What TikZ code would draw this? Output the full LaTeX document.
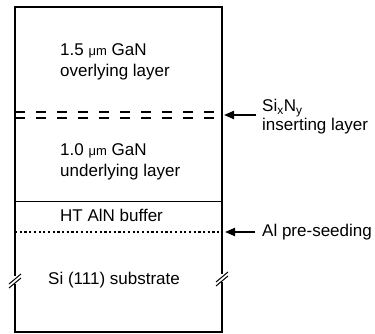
\documentclass[tikz,border=0pt]{standalone}
\usepackage{fontspec}
\setmainfont{Liberation Sans}
\usetikzlibrary{arrows.meta,positioning,calc}

\begin{document}
\begin{tikzpicture}[
    x=1pt, y=-1pt,
    layer/.style={anchor=west, align=left, font=\fontsize{17}{21}\selectfont, inner sep=0pt},
    label/.style={anchor=west, align=left, font=\fontsize{17}{19}\selectfont, inner sep=0pt},
    wall/.style={line width=2.6pt},
    arrow/.style={-{Triangle[length=10pt,width=8pt]}, line width=2pt},
    breakmark/.style={line width=1pt}
]
\useasboundingbox (0,0) rectangle (375,334);

% --- box ---
\coordinate (tl) at (15,7);
\coordinate (br) at (222,332);
\draw[wall] (tl) rectangle (br);

% --- interfaces ---
\coordinate (sin_l) at (15,115);
\coordinate (sin_r) at (222,115);
\coordinate (aln_l) at (15,201);
\coordinate (aln_r) at (222,201);
\coordinate (al_l) at (15,232);
\coordinate (al_r) at (222,232);

\draw[line width=2.8pt, dash pattern=on 10pt off 11pt] ($(sin_l)+(0,-3)$) -- ($(sin_r)+(0,-3)$);
\draw[line width=2.8pt, dash pattern=on 10pt off 11pt] ($(sin_l)+(0,3)$) -- ($(sin_r)+(0,3)$);
\draw[line width=0.9pt] (aln_l) -- (aln_r);
\draw[line width=2.2pt, dash pattern=on 2.2pt off 2.5pt] (al_l) -- (al_r);

% --- layers ---
\node[layer] (gan2) at (60,62) {1.5 {\fontsize{13}{13}\selectfont μm} GaN\\overlying layer};
\node[layer] (gan1) at (60,162) {1.0 {\fontsize{13}{13}\selectfont μm} GaN\\underlying layer};
\node[layer] (aln) at (60,215) {HT AlN buffer};
\node[layer] (si) at (48,280) {Si (111) substrate};

% --- breaks ---
\coordinate (bk_l) at (15,280);
\coordinate (bk_r) at (222,278);
\foreach \c in {bk_l,bk_r} {
  \fill[white] ($(\c)+(-3,-4)$) rectangle ($(\c)+(3,4)$);
  \draw[breakmark] ($(\c)+(-6,4)$) -- ($(\c)+(6,-6)$);
  \draw[breakmark] ($(\c)+(-6,8)$) -- ($(\c)+(6,-2)$);
}

% --- labels ---
\node[label] (sinx) at (262,117) {Si\textsubscript{x}N\textsubscript{y}\\inserting layer};
\node[label] (alseed) at (262,232) {Al pre-seeding};
\coordinate (sinx_tail) at ($(sinx.west |- sin_r)+(-6,0)$);
\coordinate (alseed_tail) at ($(alseed.west)+(-7,0)$);

% --- arrows ---
\draw[arrow] (sinx_tail) -- ($(sin_r)+(2,0)$);
\draw[arrow] (alseed_tail) -- ($(al_r)+(3,0)$);

\end{tikzpicture}
\end{document}
